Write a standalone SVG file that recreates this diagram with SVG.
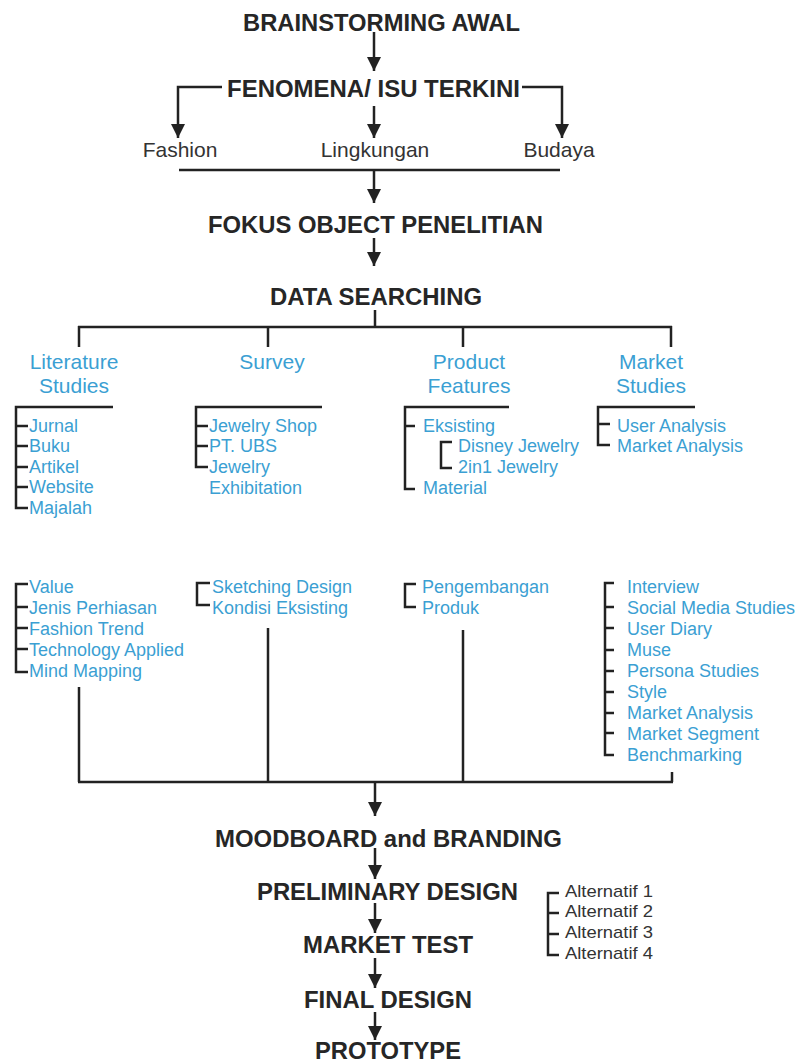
<svg xmlns="http://www.w3.org/2000/svg" width="803" height="1064" viewBox="0 0 803 1064">
<defs>
<marker id="ah" markerUnits="userSpaceOnUse" markerWidth="14" markerHeight="14" refX="14" refY="7" orient="auto">
<path d="M0,0 L14,7 L0,14 z" fill="#222"/>
</marker>
<style>
.h{font-family:"Liberation Sans",Arial,sans-serif;font-weight:bold;font-size:23px;fill:#262626}
.g{font-family:"Liberation Sans",Arial,sans-serif;font-size:21px;fill:#333}
.bh{font-family:"Liberation Sans",Arial,sans-serif;font-size:21px;fill:#3b9fd3;text-anchor:middle}
.b{font-family:"Liberation Sans",Arial,sans-serif;font-size:18px;fill:#3b9fd3}
.alt{font-family:"Liberation Sans",Arial,sans-serif;font-size:17px;fill:#333}
.l{fill:none;stroke:#222;stroke-width:2.5}
.a{fill:none;stroke:#222;stroke-width:2.5;marker-end:url(#ah)}
</style>
</defs>
<rect width="803" height="1064" fill="#fff"/>

<g id="connectors">
<line class="a" x1="374" y1="32" x2="374" y2="71"/>
<line class="a" x1="374" y1="106" x2="374" y2="138"/>
<polyline class="a" points="222,87 178,87 178,138"/>
<polyline class="a" points="522,87 562,87 562,138"/>
<line class="l" x1="179" y1="170" x2="560" y2="170"/>
<line class="a" x1="374" y1="170" x2="374" y2="203"/>
<line class="a" x1="374" y1="238" x2="374" y2="266"/>
<line class="l" x1="375" y1="310" x2="375" y2="327"/>
<line class="l" x1="78" y1="327" x2="672" y2="327"/>
<line class="l" x1="79" y1="326" x2="79" y2="347"/>
<line class="l" x1="268" y1="327" x2="268" y2="347"/>
<line class="l" x1="463" y1="327" x2="463" y2="347"/>
<line class="l" x1="671" y1="326" x2="671" y2="347"/>
<line class="l" x1="79" y1="687" x2="79" y2="782"/>
<line class="l" x1="268" y1="628" x2="268" y2="782"/>
<line class="l" x1="463" y1="630" x2="463" y2="782"/>
<line class="l" x1="672" y1="772" x2="672" y2="782"/>
<line class="l" x1="78" y1="782" x2="673" y2="782"/>
<line class="a" x1="375" y1="782" x2="375" y2="816"/>
<line class="a" x1="375" y1="848" x2="375" y2="879"/>
<line class="a" x1="375" y1="903" x2="375" y2="933"/>
<line class="a" x1="375" y1="958" x2="375" y2="988"/>
<line class="a" x1="375" y1="1012" x2="375" y2="1040"/>
</g>

<g id="brainstorming"><text class="h" x="243" y="31" textLength="277" lengthAdjust="spacingAndGlyphs">BRAINSTORMING AWAL</text></g>
<g id="fenomena"><text class="h" x="227" y="97" textLength="293" lengthAdjust="spacingAndGlyphs">FENOMENA/ ISU TERKINI</text></g>
<g id="fashion"><text class="g" x="180" y="157" text-anchor="middle">Fashion</text></g>
<g id="lingkungan"><text class="g" x="375" y="157" text-anchor="middle">Lingkungan</text></g>
<g id="budaya"><text class="g" x="559" y="157" text-anchor="middle">Budaya</text></g>
<g id="fokus"><text class="h" x="208" y="233" textLength="335" lengthAdjust="spacingAndGlyphs">FOKUS OBJECT PENELITIAN</text></g>
<g id="data-searching"><text class="h" x="270" y="305" textLength="212" lengthAdjust="spacingAndGlyphs">DATA SEARCHING</text></g>

<g id="literature">
<text class="bh" x="74" y="369">Literature</text>
<text class="bh" x="74" y="393">Studies</text>
<path class="l" d="M113,407 H16 V508 H28 M16,426 H28 M16,446 H28 M16,467 H28 M16,487 H28"/>
<text class="b" x="29" y="432">Jurnal</text>
<text class="b" x="29" y="452">Buku</text>
<text class="b" x="29" y="473">Artikel</text>
<text class="b" x="29" y="493">Website</text>
<text class="b" x="29" y="514">Majalah</text>
</g>

<g id="survey">
<text class="bh" x="272" y="369">Survey</text>
<path class="l" d="M322,407 H196 V467 H208 M196,426 H208 M196,446 H208"/>
<text class="b" x="209" y="432">Jewelry Shop</text>
<text class="b" x="209" y="452">PT. UBS</text>
<text class="b" x="209" y="473">Jewelry</text>
<text class="b" x="209" y="494">Exhibitation</text>
</g>

<g id="product-features">
<text class="bh" x="469" y="369">Product</text>
<text class="bh" x="469" y="393">Features</text>
<path class="l" d="M509,407 H405 V489 H415 M405,426 H415 M452,442 H441 V468 H452"/>
<text class="b" x="423" y="432">Eksisting</text>
<text class="b" x="458" y="452">Disney Jewelry</text>
<text class="b" x="458" y="473">2in1 Jewelry</text>
<text class="b" x="423" y="494">Material</text>
</g>

<g id="market-studies">
<text class="bh" x="651" y="369">Market</text>
<text class="bh" x="651" y="393">Studies</text>
<path class="l" d="M695,407 H598 V445 H610 M598,424 H610"/>
<text class="b" x="617" y="432">User Analysis</text>
<text class="b" x="617" y="452">Market Analysis</text>
</g>

<g id="literature-2">
<path class="l" d="M28,584 H16 V672 H28 M16,607 H28 M16,628 H28 M16,649 H28"/>
<text class="b" x="29" y="593">Value</text>
<text class="b" x="29" y="614">Jenis Perhiasan</text>
<text class="b" x="29" y="635">Fashion Trend</text>
<text class="b" x="29" y="656">Technology Applied</text>
<text class="b" x="29" y="677">Mind Mapping</text>
</g>

<g id="survey-2">
<path class="l" d="M210,583 H197 V605 H210"/>
<text class="b" x="212" y="593">Sketching Design</text>
<text class="b" x="212" y="614">Kondisi Eksisting</text>
</g>

<g id="product-2">
<path class="l" d="M416,584 H405 V607 H416"/>
<text class="b" x="422" y="593">Pengembangan</text>
<text class="b" x="422" y="614">Produk</text>
</g>

<g id="market-2">
<path class="l" d="M614,583 H605 V755 H614 M605,607 H614 M605,628 H614 M605,650 H614 M605,671 H614 M605,692 H614 M605,713 H614 M605,733 H614"/>
<text class="b" x="627" y="593">Interview</text>
<text class="b" x="627" y="614">Social Media Studies</text>
<text class="b" x="627" y="635">User Diary</text>
<text class="b" x="627" y="656">Muse</text>
<text class="b" x="627" y="677">Persona Studies</text>
<text class="b" x="627" y="698">Style</text>
<text class="b" x="627" y="719">Market Analysis</text>
<text class="b" x="627" y="740">Market Segment</text>
<text class="b" x="627" y="761">Benchmarking</text>
</g>

<g id="moodboard"><text class="h" x="215" y="847" textLength="347" lengthAdjust="spacingAndGlyphs">MOODBOARD and BRANDING</text></g>
<g id="preliminary"><text class="h" x="257" y="900" textLength="261" lengthAdjust="spacingAndGlyphs">PRELIMINARY DESIGN</text></g>
<g id="alternatif">
<path class="l" d="M559,893 H548 V955 H559 M548,913 H559 M548,934 H559"/>
<text class="alt" x="565" y="897" textLength="88" lengthAdjust="spacingAndGlyphs">Alternatif 1</text>
<text class="alt" x="565" y="917" textLength="88" lengthAdjust="spacingAndGlyphs">Alternatif 2</text>
<text class="alt" x="565" y="938" textLength="88" lengthAdjust="spacingAndGlyphs">Alternatif 3</text>
<text class="alt" x="565" y="959" textLength="88" lengthAdjust="spacingAndGlyphs">Alternatif 4</text>
</g>
<g id="market-test"><text class="h" x="303" y="953" textLength="170" lengthAdjust="spacingAndGlyphs">MARKET TEST</text></g>
<g id="final-design"><text class="h" x="304" y="1008" textLength="168" lengthAdjust="spacingAndGlyphs">FINAL DESIGN</text></g>
<g id="prototype"><text class="h" x="315" y="1059" textLength="146" lengthAdjust="spacingAndGlyphs">PROTOTYPE</text></g>
</svg>
